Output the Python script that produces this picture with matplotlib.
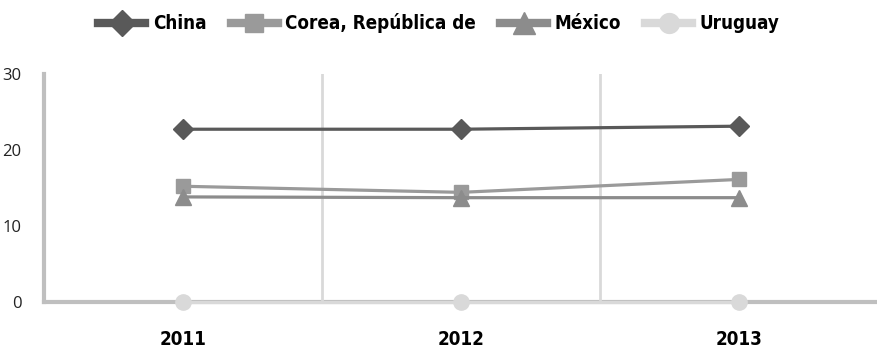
import matplotlib
matplotlib.use("Agg")
import matplotlib.pyplot as plt
import numpy as np

# -------------------------------------------------------------------------
# Data
# -------------------------------------------------------------------------
years = ["2011", "2012", "2013"]
china = [22.7, 22.7, 23.1]
corea = [15.2, 14.4, 16.1]
mexico = [13.8, 13.7, 13.7]
uruguay = [0.0, 0.0, 0.0]

series = [
    ("China", china, "#595959", "D", 10),
    ("Corea, República de", corea, "#9a9a9a", "s", 10),
    ("México", mexico, "#8c8c8c", "^", 12),
    ("Uruguay", uruguay, "#d9d9d9", "o", 11),
]

fig = plt.figure(figsize=(8.78, 3.51), dpi=100)
ax = fig.add_axes([0.050, 0.140, 0.950, 0.650])

x = np.arange(len(years))
for name, vals, color, marker, ms in series:
    ax.plot(x, vals, color=color, lw=2.3, marker=marker, ms=ms,
            label=name, clip_on=False, zorder=3)

# vertical separators between categories
for xv in x[:-1] + 0.5:
    ax.axvline(xv, color="#d9d9d9", lw=2, zorder=1)

ax.set_xlim(-0.5, len(years) - 0.5)
ax.set_ylim(0, 30)
ax.set_yticks([0, 10, 20, 30])
ax.set_xticks(x)
ax.set_xticklabels(years, fontsize=13.5, fontweight="bold", fontstretch="condensed")
ax.tick_params(axis="x", length=0, pad=20)
ax.tick_params(axis="y", length=0, pad=16, labelsize=12, labelcolor="#222222")
for lbl in ax.get_yticklabels():
    lbl.set_family("Open Sans")

for side in ["top", "right"]:
    ax.spines[side].set_visible(False)
for side in ["left", "bottom"]:
    ax.spines[side].set_color("#bfbfbf")
    ax.spines[side].set_linewidth(3)
    ax.spines[side].set_zorder(0)

leg = fig.legend(loc="upper center", bbox_to_anchor=(0.5, 1.01), ncol=4, frameon=False,
                 handlelength=2.5, columnspacing=1.3, handletextpad=0.4,
                 prop={"weight": "bold", "size": 13.5, "stretch": "condensed"},
                 markerscale=1.3)
for ln in leg.get_lines():
    ln.set_linewidth(6)

fig.savefig("out.png", dpi=100)
